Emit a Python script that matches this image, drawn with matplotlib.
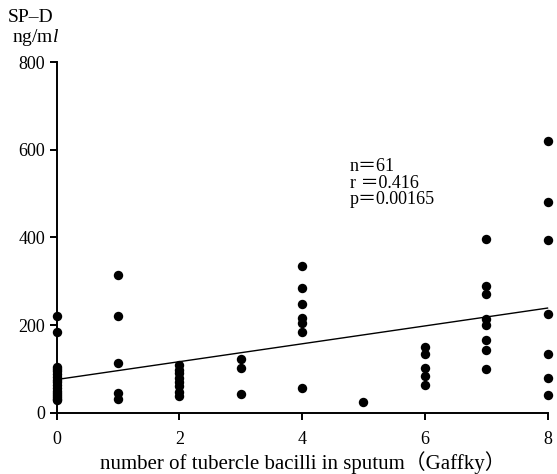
import matplotlib
matplotlib.use("Agg")
import matplotlib.pyplot as plt
import numpy as np

plt.rcParams['font.family'] = ['Liberation Serif', 'Noto Sans CJK JP', 'DejaVu Serif']
plt.rcParams['mathtext.fontset'] = 'custom'
plt.rcParams['mathtext.it'] = 'Liberation Serif:italic'

# Data: Gaffky number vs SP-D (ng/ml)
gaffky_0 = [220, 185, 105, 100, 95, 88, 82, 75, 70, 62, 55, 50, 45, 40, 35, 30, 28]
gaffky_1 = [314, 220, 114, 45, 30]
gaffky_2 = [108, 98, 90, 80, 70, 60, 48, 38]
gaffky_3 = [122, 102, 42]
gaffky_4 = [336, 284, 247, 215, 205, 184, 56]
gaffky_5 = [25]
gaffky_6 = [150, 133, 101, 83, 64]
gaffky_7 = [397, 290, 272, 213, 200, 166, 144, 100]
gaffky_8 = [621, 482, 394, 225, 133, 78, 40]
groups = [gaffky_0, gaffky_1, gaffky_2, gaffky_3, gaffky_4,
          gaffky_5, gaffky_6, gaffky_7, gaffky_8]

x_ticks = [0, 2, 4, 6, 8]
y_ticks = [0, 200, 400, 600, 800]
stats_lines = ["n＝61", "r ＝0.416", "p＝0.00165"]

xs = np.concatenate([[g] * len(v) for g, v in enumerate(groups)])
ys = np.concatenate([np.array(v, dtype=float) for v in groups])
slope, intercept = np.polyfit(xs, ys, 1)

fig = plt.figure(figsize=(5.57, 4.74), dpi=100)
ax = fig.add_axes([0.1018, 0.1297, 0.8812, 0.7385])

ax.scatter(xs, ys, s=46, color='black', zorder=3, clip_on=False, linewidths=0)
lx = np.array([0, 8])
ax.plot(lx, intercept + slope * lx, color='black', lw=1.0, clip_on=False)

ax.set_xlim(0, 8)
ax.set_ylim(0, 800)
ax.set_xticks(x_ticks)
ax.set_yticks(y_ticks)
ax.spines['top'].set_visible(False)
ax.spines['right'].set_visible(False)
for s in ['left', 'bottom']:
    ax.spines[s].set_linewidth(1.4)
ax.tick_params(direction='out', length=5, width=1.4, labelsize=13)
ax.tick_params(axis='x', pad=8)

ax.text(4.78, 581, "\n".join(stats_lines), fontsize=13, va='top', ha='left',
        linespacing=0.95)

fig.text(0.055, 0.964, "SP–D", fontsize=14, ha='center', va='center')
fig.text(0.063, 0.921, r"ng/m$\it{l}$", fontsize=14, ha='center', va='center')
fig.text(0.543, 0.025, "number of tubercle bacilli in sputum（Gaffky）",
         fontsize=15, ha='center', va='center')

fig.savefig("out.png", dpi=100)
